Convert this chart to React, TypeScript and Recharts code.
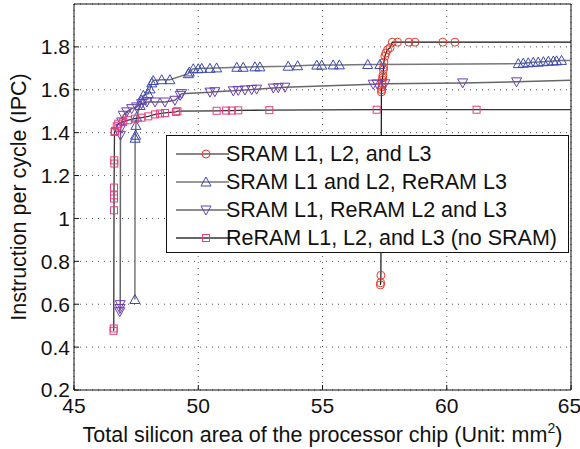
import React from "react";
import {
  LineChart,
  Line,
  XAxis,
  YAxis,
  CartesianGrid,
  ReferenceLine,
} from "recharts";

// SRAM L1, L2, and L3
const sramAllX = [57.33, 57.34, 57.35, 57.37, 57.38, 57.39, 57.4, 57.41, 57.42, 57.43, 57.45, 57.46, 57.47, 57.51, 57.55, 57.62, 57.72, 57.81, 58.02, 58.48, 58.72, 59.84, 60.33, 65];
const sramAllY = [0.69, 0.7, 0.735, 1.59, 1.6, 1.613, 1.628, 1.645, 1.656, 1.667, 1.693, 1.705, 1.729, 1.756, 1.771, 1.787, 1.796, 1.822, 1.822, 1.822, 1.822, 1.822, 1.822, 1.822];

// SRAM L1 and L2, ReRAM L3
const reramL3X = [47.45, 47.46, 47.48, 47.49, 47.52, 47.66, 47.72, 47.79, 47.99, 48.06, 48.13, 48.19, 48.53, 48.86, 49.6, 49.64, 49.8, 50.0, 50.14, 50.47, 50.74, 51.55, 51.81, 52.28, 52.48, 53.62, 54.0, 54.77, 54.97, 55.43, 55.68, 56.82, 57.31, 62.88, 63.08, 63.28, 63.48, 63.68, 63.89, 64.09, 64.29, 64.42, 64.62, 65];
const reramL3Y = [0.622, 1.374, 1.388, 1.434, 1.473, 1.527, 1.551, 1.574, 1.582, 1.604, 1.632, 1.643, 1.647, 1.647, 1.675, 1.683, 1.698, 1.698, 1.7, 1.7, 1.702, 1.705, 1.705, 1.707, 1.707, 1.71, 1.712, 1.715, 1.715, 1.716, 1.716, 1.718, 1.718, 1.722, 1.724, 1.726, 1.728, 1.729, 1.731, 1.733, 1.734, 1.735, 1.737, 1.737];

// SRAM L1, ReRAM L2 and L3
const reramL23X = [46.84, 46.85, 46.86, 46.87, 46.88, 46.92, 46.98, 47.12, 47.32, 47.52, 47.72, 47.93, 48.26, 48.66, 49.06, 49.27, 49.33, 50.47, 50.67, 51.41, 51.61, 51.88, 52.15, 52.35, 53.02, 53.22, 53.49, 57.04, 57.2, 57.51, 60.64, 62.81, 65];
const reramL23Y = [0.565, 0.58, 0.598, 1.388, 1.419, 1.45, 1.481, 1.497, 1.512, 1.52, 1.535, 1.543, 1.543, 1.543, 1.551, 1.574, 1.582, 1.589, 1.591, 1.595, 1.597, 1.599, 1.601, 1.603, 1.608, 1.61, 1.612, 1.626, 1.627, 1.628, 1.632, 1.637, 1.644];

// ReRAM L1, L2, and L3 (no SRAM)
const reramAllX = [46.59, 46.6, 46.61, 46.61, 46.61, 46.61, 46.62, 46.62, 46.63, 46.65, 46.72, 46.78, 46.98, 47.18, 47.45, 47.72, 47.99, 48.26, 48.46, 48.66, 49.1, 49.16, 50.74, 51.12, 51.35, 51.61, 52.86, 57.18, 61.2, 65];
const reramAllY = [0.476, 0.487, 1.038, 1.093, 1.108, 1.144, 1.256, 1.271, 1.403, 1.408, 1.43, 1.442, 1.45, 1.458, 1.465, 1.47, 1.476, 1.485, 1.489, 1.492, 1.497, 1.5, 1.502, 1.503, 1.503, 1.504, 1.505, 1.507, 1.507, 1.507];

const xTicks = [45, 50, 55, 60, 65];
const yTicks = [0.2, 0.4, 0.6, 0.8, 1, 1.2, 1.4, 1.6, 1.8];

const FONT = "'Liberation Sans', Arial, Helvetica, sans-serif";

const toPoints = (xs: number[], ys: number[]) => xs.map((x, i) => ({ x, y: ys[i] }));

type Shape = "circle" | "up" | "down" | "square";

const SERIES = [
  { name: "SRAM L1, L2, and L3", xs: sramAllX, ys: sramAllY, shape: "circle" as Shape, color: "#e8392c", line: "#111", width: 1.2 },
  { name: "SRAM L1 and L2, ReRAM L3", xs: reramL3X, ys: reramL3Y, shape: "up" as Shape, color: "#3a48b0", line: "#777", width: 1.5 },
  { name: "SRAM L1, ReRAM L2 and L3", xs: reramL23X, ys: reramL23Y, shape: "down" as Shape, color: "#6a3cb8", line: "#666", width: 1.5 },
  { name: "ReRAM L1, L2, and L3 (no SRAM)", xs: reramAllX, ys: reramAllY, shape: "square" as Shape, color: "#e23f7e", line: "#333", width: 1.3 },
];

function Marker({ shape, color, cx, cy }: { shape: Shape; color: string; cx: number; cy: number }) {
  const common = { fill: "none", stroke: color, strokeWidth: 1 };
  if (shape === "circle") return <circle cx={cx} cy={cy} r={4} {...common} />;
  if (shape === "square") return <rect x={cx - 3.5} y={cy - 3.5} width={7} height={7} {...common} />;
  if (shape === "up")
    return <polygon points={`${cx},${cy - 5} ${cx - 5},${cy + 4} ${cx + 5},${cy + 4}`} {...common} />;
  return <polygon points={`${cx},${cy + 5} ${cx - 5},${cy - 4} ${cx + 5},${cy - 4}`} {...common} />;
}

const makeDot = (shape: Shape, color: string, last: number) => (props: any) => {
  const { cx, cy, index } = props;
  if (index === last || cx == null || cy == null) return <g key={index} />;
  return (
    <g key={index}>
      <Marker shape={shape} color={color} cx={cx} cy={cy} />
    </g>
  );
};

function XLabel({ viewBox }: any) {
  const cx = viewBox.x + viewBox.width / 2;
  return (
    <text x={cx} y={442} textAnchor="middle" fontFamily={FONT} fontSize={21.5} fill="#111">
      Total silicon area of the processor chip (Unit: mm
      <tspan fontSize={14} dy={-9}>2</tspan>
      <tspan dy={9}>)</tspan>
    </text>
  );
}

function YLabel() {
  return (
    <text
      x={26}
      y={197}
      transform="rotate(-90 26 197)"
      textAnchor="middle"
      fontFamily={FONT}
      fontSize={21.5}
      fill="#111"
    >
      Instruction per cycle (IPC)
    </text>
  );
}

function LegendBox() {
  return (
    <div
      style={{
        position: "absolute",
        left: 166,
        top: 135,
        width: 401,
        height: 116,
        border: "1px solid #111",
        background: "#fff",
        fontFamily: FONT,
        fontSize: 21.5,
        color: "#111",
      }}
    >
      {SERIES.map((s, i) => (
        <div
          key={s.name}
          style={{
            position: "absolute",
            left: 0,
            top: 4 + i * 28,
            height: 28,
            display: "flex",
            alignItems: "center",
            whiteSpace: "nowrap",
          }}
        >
          <svg width={58} height={16} style={{ marginLeft: 8 }}>
            <line x1={1} y1={8} x2={54} y2={8} stroke={s.line} strokeWidth={s.width} />
            <Marker shape={s.shape} color={s.color} cx={31} cy={8} />
          </svg>
          <span style={{ marginLeft: -7 }}>{s.name}</span>
        </div>
      ))}
    </div>
  );
}

export default function App() {
  const tickStyle = { fill: "#111", fontSize: 21, fontFamily: FONT };
  return (
    <div style={{ position: "absolute", left: 0, top: 0, width: 580, height: 449, background: "#fff" }}>
      <LineChart width={580} height={449} margin={{ top: 4, right: 9, bottom: 0, left: 0 }}>
        <CartesianGrid stroke="#555" strokeDasharray="1 5" />
        <XAxis
          type="number"
          dataKey="x"
          domain={[45, 65]}
          ticks={xTicks}
          allowDataOverflow
          height={59}
          tick={tickStyle}
          tickSize={-5}
          tickMargin={13}
          axisLine={{ stroke: "#111" }}
          tickLine={{ stroke: "#111" }}
          label={<XLabel />}
        />
        <YAxis
          type="number"
          dataKey="y"
          domain={[0.2, 2]}
          ticks={yTicks}
          allowDataOverflow
          width={74}
          tick={tickStyle}
          tickSize={-5}
          tickMargin={9}
          tickFormatter={(v: number) => String(v)}
          axisLine={{ stroke: "#111" }}
          tickLine={{ stroke: "#111" }}
          label={<YLabel />}
        />
        <ReferenceLine y={2} stroke="#111" strokeWidth={1} />
        <ReferenceLine x={65} stroke="#111" strokeWidth={1} />
        {SERIES.map((s) => (
          <Line
            key={s.name}
            data={toPoints(s.xs, s.ys)}
            dataKey="y"
            type="linear"
            stroke={s.line}
            strokeWidth={s.width}
            dot={makeDot(s.shape, s.color, s.xs.length - 1)}
            activeDot={false}
            isAnimationActive={false}
          />
        ))}
      </LineChart>
      <LegendBox />
    </div>
  );
}
